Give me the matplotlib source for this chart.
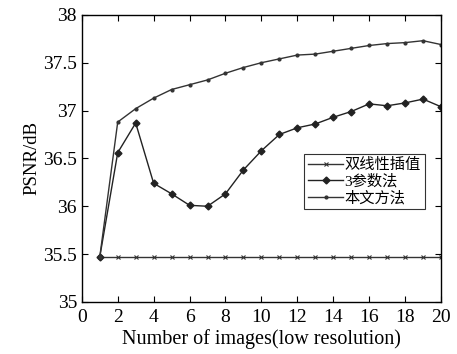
import matplotlib.pyplot as plt
import numpy as np

plt.rcParams['font.family'] = ['Liberation Serif', 'Noto Sans CJK SC']

n_images = np.arange(1, 21)
bilinear = [35.47] * 20
three_param = [35.47, 36.56, 36.87, 36.24, 36.13, 36.01, 36.00, 36.13, 36.38, 36.58,
               36.75, 36.82, 36.86, 36.93, 36.99, 37.07, 37.05, 37.08, 37.12, 37.04]
proposed = [35.47, 36.88, 37.02, 37.13, 37.22, 37.27, 37.32, 37.39, 37.45, 37.50,
            37.54, 37.58, 37.59, 37.62, 37.65, 37.68, 37.70, 37.71, 37.73, 37.69]
labels = ['双线性插值', '3参数法', '本文方法']

fig = plt.figure(figsize=(4.57, 3.54), dpi=100)
ax = fig.add_axes([0.179, 0.147, 0.786, 0.811])

ax.plot(n_images, bilinear, color='#333333', lw=1, marker='x', ms=3, mew=0.8, label=labels[0])
ax.plot(n_images, three_param, color='#222222', lw=1, marker='D', ms=3.5, label=labels[1])
ax.plot(n_images, proposed, color='#333333', lw=1, marker='.', ms=4, label=labels[2])

ax.set_xlim(0, 20)
ax.set_ylim(35, 38)
ax.set_xticks(np.arange(0, 21, 2))
ax.set_yticks([35, 35.5, 36, 36.5, 37, 37.5, 38])
ax.set_yticklabels(['35', '35.5', '36', '36.5', '37', '37.5', '38'])
ax.tick_params(direction='in', top=True, right=True, labelsize=14, length=4)
ax.tick_params(axis='x', pad=5)
for s in ax.spines.values():
    s.set_linewidth(1)

ax.set_xlabel('Number of images(low resolution)', fontsize=14.5, labelpad=2)
ax.set_ylabel('PSNR/dB', fontsize=13.5, labelpad=2)

leg = ax.legend(loc='upper left', bbox_to_anchor=(0.619, 0.515), fontsize=11,
                frameon=True, fancybox=False, edgecolor='black', handlelength=2.3,
                handletextpad=0.1, borderpad=0.25, labelspacing=0.15, borderaxespad=0)
leg.get_frame().set_linewidth(0.8)

fig.savefig('out.png', dpi=100)
